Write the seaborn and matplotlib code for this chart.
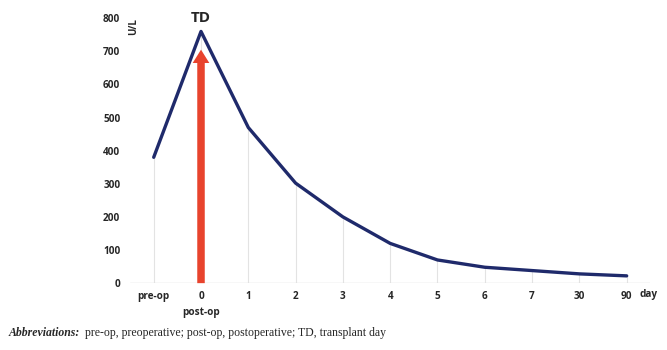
import matplotlib
matplotlib.use("Agg")
import matplotlib.pyplot as plt
import seaborn as sns
import pandas as pd
import numpy as np

categories = ["pre-op", "0", "1", "2", "3", "4", "5", "6", "7", "30", "90"]
values = [380, 760, 470, 302, 200, 120, 70, 48, 38, 28, 22]
y_ticks = [0, 100, 200, 300, 400, 500, 600, 700, 800]
arrow_top = 705

sns.set_theme(style="white")
plt.rcParams['font.family'] = ['Open Sans', 'DejaVu Sans']

df = pd.DataFrame({"pos": np.arange(len(categories)), "value": values, "label": categories})

fig = plt.figure(figsize=(6.67, 3.5), dpi=100)
ax = fig.add_axes([0.195, 0.191, 0.78, 0.757])

ax.vlines(df["pos"], 0, df["value"], color="#e3e3e3", lw=0.8, zorder=1)
ax.axhline(0, color="#d9d9d9", lw=1.0, zorder=1)

sns.lineplot(data=df, x="pos", y="value", ax=ax, color="#1f2a6b", lw=2.4, zorder=3)

ax.annotate("", xy=(1, arrow_top), xytext=(1, 0),
            arrowprops=dict(arrowstyle="simple,head_width=1.0,head_length=0.8,tail_width=0.45",
                            fc="#e8432d", ec="none", lw=0, shrinkA=0, shrinkB=0,
                            mutation_scale=12),
            zorder=4)

ax.set_xlim(-0.5, 10.5)
ax.set_ylim(0, 800)
ax.set_xticks(df["pos"])
ax.set_xticklabels(categories, fontsize=7.2, fontweight="bold")
ax.set_yticks(y_ticks)
ax.set_yticklabels([str(t) for t in y_ticks], fontsize=7.2, fontweight="bold")
ax.tick_params(axis="x", length=0, pad=6)
ax.tick_params(axis="y", length=0, pad=7)
for s in ax.spines.values():
    s.set_visible(False)
ax.set_xlabel("")
ax.set_ylabel("")

ax.text(1, 800, "TD", ha="center", va="center", fontsize=11, fontweight="bold")
ax.text(-0.55, 800, "U/L", rotation=90, ha="left", va="top", fontsize=7, fontweight="bold")
ax.text(10.28, -33, "day", ha="left", va="center", fontsize=7.2, fontweight="bold")
ax.text(1, -88, "post-op", ha="center", va="center", fontsize=7.2, fontweight="bold")

fig.text(0.013, 0.048, "Abbreviations:", fontsize=8.5, fontstyle="italic", fontweight="bold",
         family="Liberation Serif", ha="left", va="center")
fig.text(0.128, 0.048, "pre-op, preoperative; post-op, postoperative; TD, transplant day",
         fontsize=8.5, family="Liberation Serif", ha="left", va="center")

fig.savefig("out.png", dpi=100)
